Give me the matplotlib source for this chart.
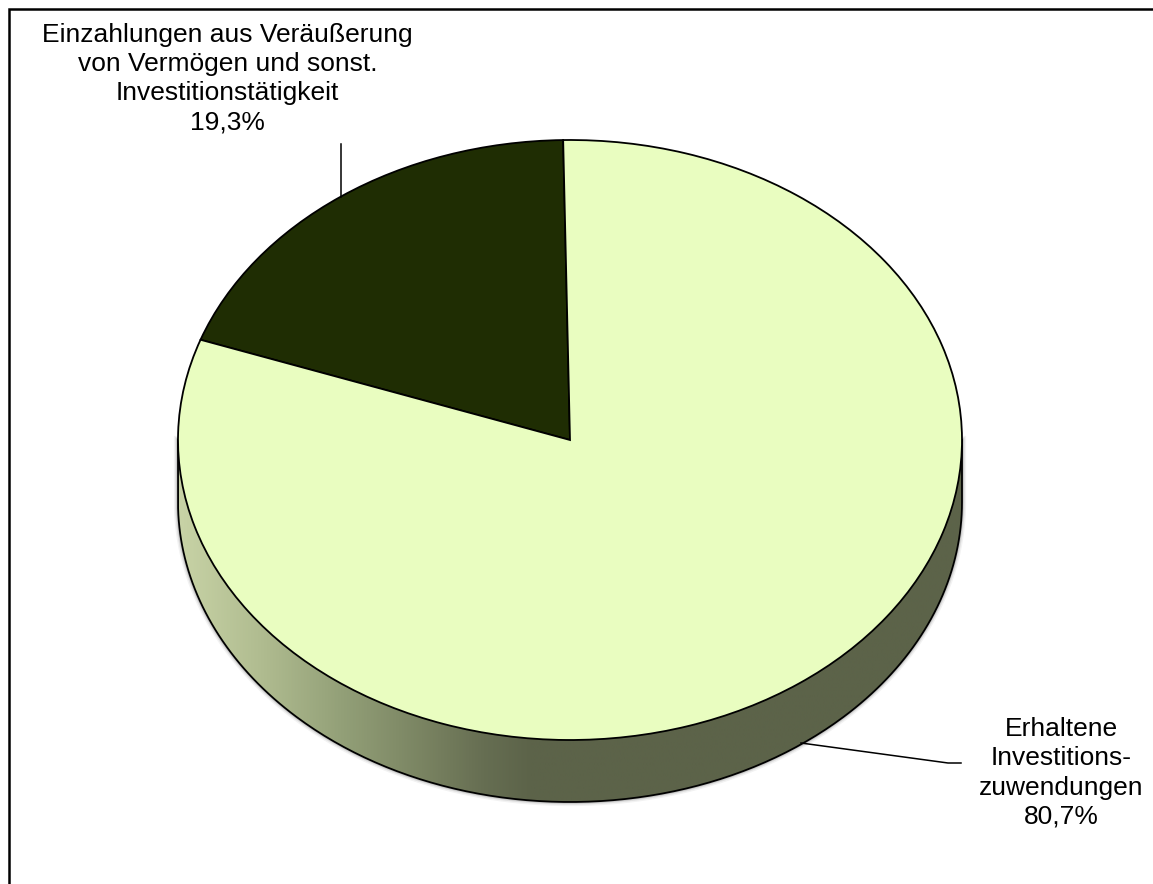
import numpy as np
import matplotlib
matplotlib.use('Agg')
import matplotlib.pyplot as plt
from matplotlib.colors import LinearSegmentedColormap
from matplotlib.patches import Polygon

plt.rcParams['font.family'] = ['Liberation Sans', 'DejaVu Sans']

# values from the chart
categories = ['Einzahlungen aus Veräußerung\nvon Vermögen und sonst.\nInvestitionstätigkeit',
              'Erhaltene\nInvestitions-\nzuwendungen']
shares = [19.3, 80.7]
share_labels = ['19,3%', '80,7%']
slice_colors = ['#1f2d03', '#e9fdc0']
wall_colors = ['#c8d3a6', '#b0bc90', '#93a078', '#7a8462', '#666e52', '#5c6349', '#5c6349']
wall_stops = [0.0, 0.105, 0.207, 0.31, 0.39, 0.45, 1.0]

W, H = 1153, 884
cx, cy, rx, ry = 570, 440, 392, 300
depth = 62 / ry

fig = plt.figure(figsize=(W / 100, H / 100), dpi=100)
ax = fig.add_axes([0, 0, 1, 1])

# pie top, squashed to an ellipse through the axis limits
ax.pie(shares, colors=slice_colors, startangle=91, radius=1,
       wedgeprops=dict(edgecolor='black', linewidth=1.3, zorder=5))
ax.set_aspect('auto')
ax.axis('off')

# side wall of the disc
t = np.linspace(np.pi, 2 * np.pi, 300)
ex, ey = np.cos(t), np.sin(t)
wall_x = np.r_[ex, ex[::-1]]
wall_y = np.r_[ey, ey[::-1] - depth]

# outline of wall: down the left side, along the bottom, up the right side
out_x = np.r_[-1, ex, 1]
out_y = np.r_[0, ey - depth, 0]

# soft shadow around the wall
for lw, a in [(6, 0.05), (4, 0.08), (2.5, 0.12)]:
    ax.plot(out_x, out_y, color='black', lw=lw, alpha=a, zorder=1)

cmap = LinearSegmentedColormap.from_list('wall', list(zip(wall_stops, wall_colors)))
grad = ax.imshow(np.linspace(0, 1, 512)[None, :], cmap=cmap, aspect='auto', zorder=2,
                 extent=(-1, 1, -1 - depth, 0), interpolation='bilinear')
wall = Polygon(np.c_[wall_x, wall_y], closed=True, facecolor='none', edgecolor='none',
               transform=ax.transData)
ax.add_patch(wall)
grad.set_clip_path(wall)
ax.set_xlim(-cx / rx, (W - cx) / rx)
ax.set_ylim((cy - H) / ry, cy / ry)

ax.plot(out_x, out_y, color='black', lw=1.3, zorder=3)

# overlay in pixel coordinates for frame, leader lines and labels
ov = fig.add_axes([0, 0, 1, 1], facecolor='none')
ov.set_xlim(0, W)
ov.set_ylim(H, 0)
ov.axis('off')

ov.plot([8.5, 8.5, W], [H, 9, 9], color='black', lw=1.8, solid_joinstyle='miter')
ov.plot([341, 341], [144, 197], color='black', lw=1.1, zorder=1)
ov.plot([801, 948, 961], [743, 763, 763], color='black', lw=1.1, zorder=1)

ov.text(227.5, 78.5, categories[0] + '\n' + share_labels[0], ha='center', va='center',
        fontsize=19, linespacing=1.27)
ov.text(1061, 773, categories[1] + '\n' + share_labels[1], ha='center', va='center',
        fontsize=19, linespacing=1.27)

fig.savefig('out.png', dpi=100)
